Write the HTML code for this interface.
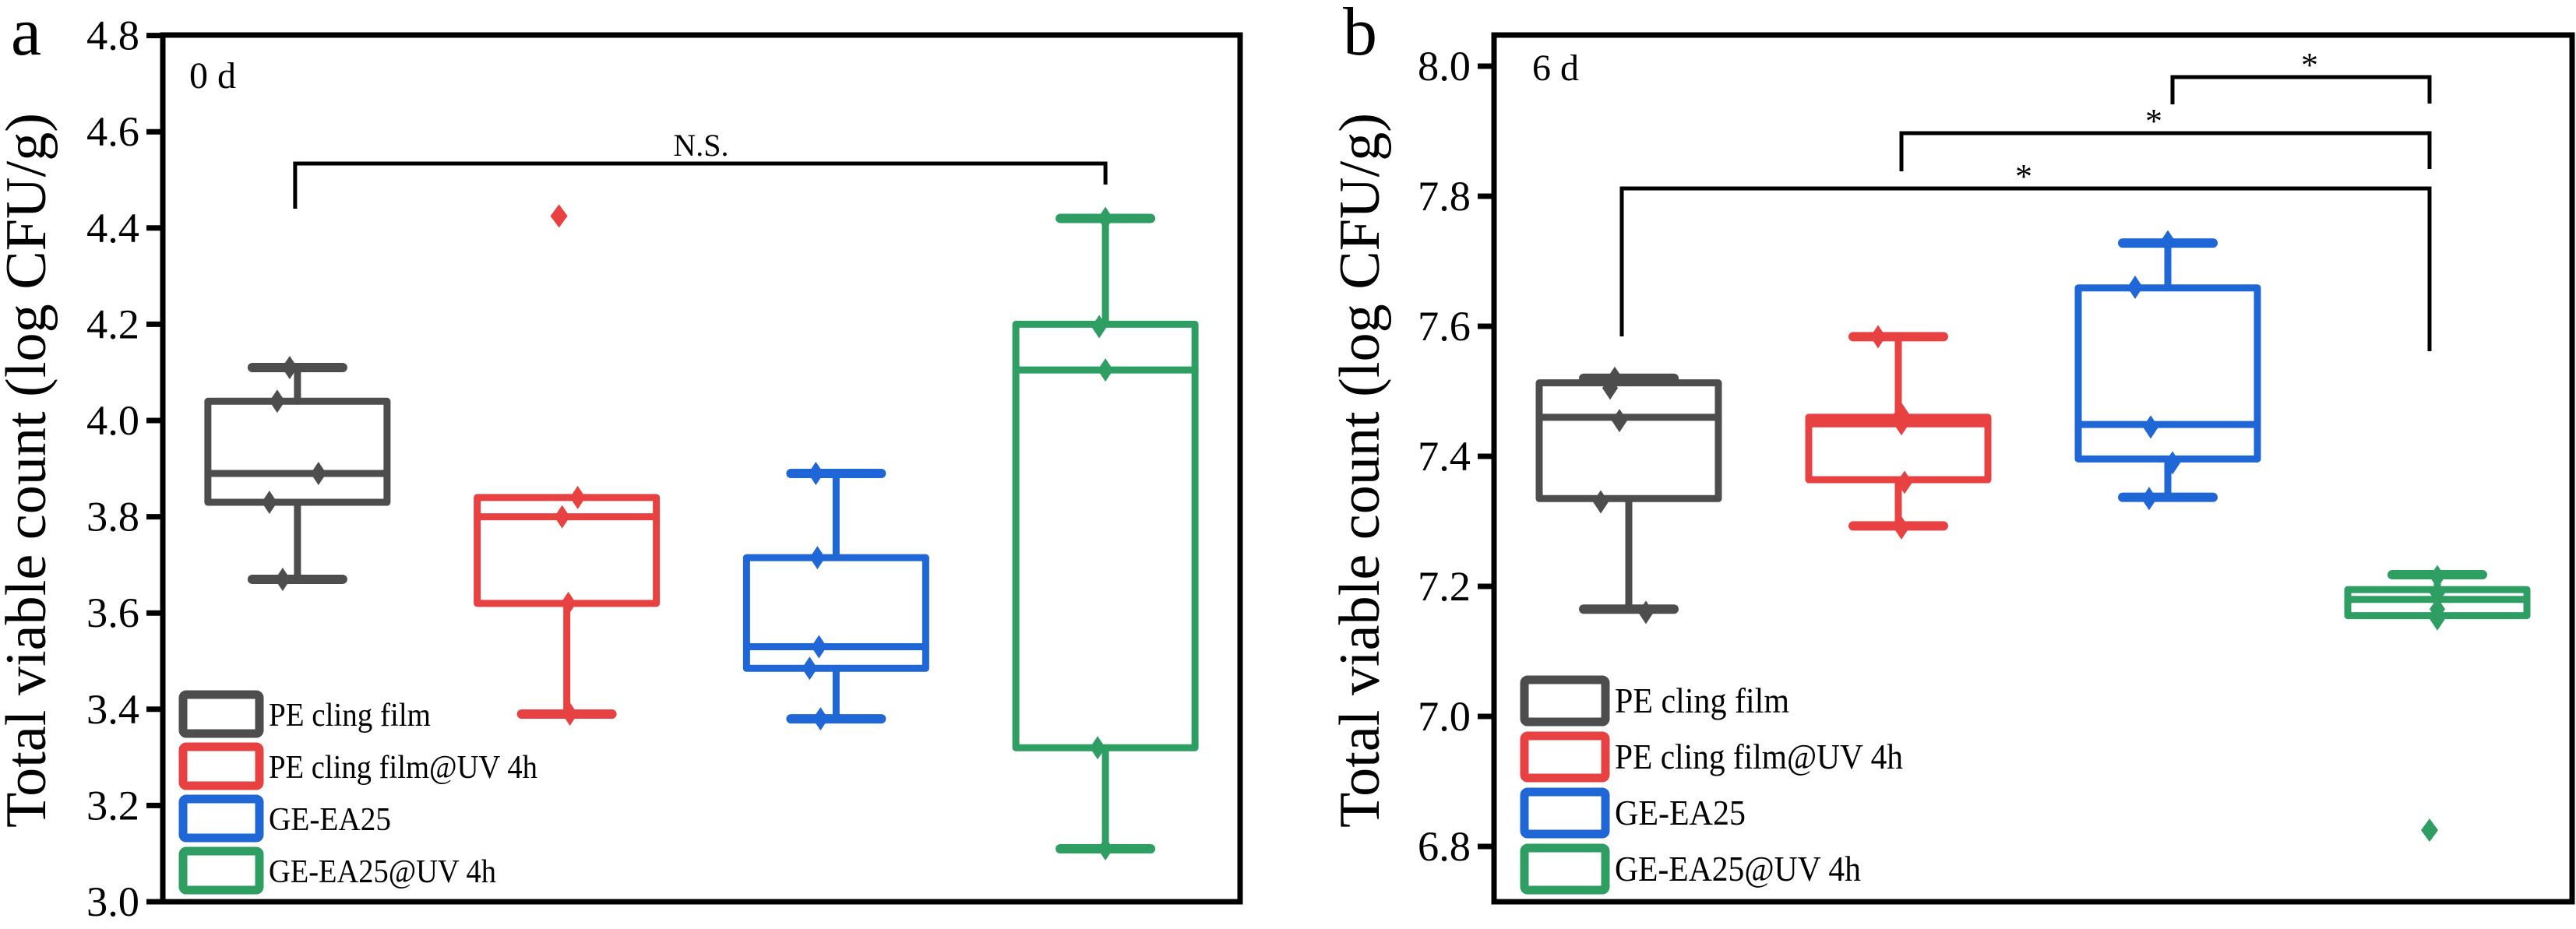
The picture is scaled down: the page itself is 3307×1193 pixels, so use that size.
<!DOCTYPE html>
<html><head><meta charset="utf-8"><style>
html,body{margin:0;padding:0;background:#fff;}
svg{display:block;font-family:"Liberation Serif","Times New Roman",serif;}
svg text{font-family:"Liberation Serif","Times New Roman",serif;}
</style></head><body>
<svg id="chart" width="3307" height="1193" viewBox="0 0 3307 1193" xmlns="http://www.w3.org/2000/svg" font-family="Liberation Serif, serif"></svg>
<script>
// ---------- data ----------
const categories = ["PE cling film","PE cling film@UV 4h","GE-EA25","GE-EA25@UV 4h"];
const colors = ["#4d4d4d","#e84142","#1f66d6","#2f9e63"];
// panel a (0 d)
const aLow  = [3.67, 3.39, 3.38, 3.11];
const aQ1   = [3.83, 3.62, 3.485, 3.32];
const aMed  = [3.89, 3.80, 3.53, 4.105];
const aQ3   = [4.04, 3.84, 3.715, 4.20];
const aHigh = [4.11, 3.84, 3.89, 4.42];
const aPoints = [[4.11,4.04,3.89,3.83,3.67],[3.84,3.80,3.62,3.39],[3.89,3.715,3.53,3.485,3.38],[4.42,4.195,4.105,3.32,3.11]];
const aOutliers = [[],[4.425],[],[]];
const aTicks = ["3.0","3.2","3.4","3.6","3.8","4.0","4.2","4.4","4.6","4.8"];
// panel b (6 d)
const bLow  = [7.165, 7.293, 7.337, 7.155];
const bQ1   = [7.335, 7.364, 7.396, 7.155];
const bMed  = [7.46, 7.45, 7.449, 7.18];
const bQ3   = [7.513, 7.46, 7.659, 7.195];
const bHigh = [7.52, 7.584, 7.728, 7.218];
const bPoints = [[7.52,7.505,7.455,7.33,7.16],[7.584,7.465,7.45,7.36,7.29],[7.73,7.66,7.445,7.39,7.335],[7.215,7.19,7.165,7.15]];
const bOutliers = [[],[],[],[6.825]];
const bTicks = ["6.8","7.0","7.2","7.4","7.6","7.8","8.0"];

// ---------- layout (styles) ----------
const jitter = {
  a:[[-10,-26,27,-36,-19],[14,-6,2,4],[-26,-24,-22,-34,-20],[0,-8,0,-10,0]],
  b:[[-18,-24,-12,-36,22],[-26,4,4,8,4],[0,-42,-22,6,-24],[0,0,0,0]]
};
const legWidths = [{a:208,b:224},{a:345,b:370},{a:157,b:168},{a:292,b:316}];
const FF = '"Liberation Serif", "Times New Roman", serif';
const NS = "http://www.w3.org/2000/svg";
const svg = document.getElementById('chart');
function mk(tag, attrs, parent){
  const e = document.createElementNS(NS, tag);
  for (const k in attrs) e.setAttribute(k, attrs[k]);
  if (tag === 'text') e.setAttribute('font-family', FF);
  (parent||svg).appendChild(e);
  return e;
}

function panel(cfg){
  const g = mk('g', {});
  
  
  const L=cfg.left, R=cfg.right, T=45, B=1158;
  const y = v => cfg.y0 - (v - cfg.v0) * cfg.pxPerUnit;
  const xc = i => L + (R-L) * (i + 0.5) / categories.length;
  const bw = 230;

  cfg.ticks.forEach(t=>{
    const v = parseFloat(t), yy = y(v);
    const tk = mk('line',{x1:L-21,x2:L,y1:yy,y2:yy,stroke:'#000','stroke-width':7},g);
    
    
    const tl = mk('text',{x:L-30,y:yy+18,'font-size':54,'text-anchor':'end',fill:'#000',textLength:68,lengthAdjust:'spacingAndGlyphs'},g);
    tl.textContent = t;
    
    
  });
  const ty = mk('text',{x:0,y:0,'font-size':74,'text-anchor':'middle',fill:'#000',
    transform:`translate(${cfg.titleX},604) rotate(-90)`,textLength:918,lengthAdjust:'spacingAndGlyphs'},g);
  ty.textContent = 'Total viable count (log CFU/g)';
  
  

  for (let i=0;i<categories.length;i++){
    const c = colors[i], cx = xc(i);
    const bg = mk('g',{stroke:c,fill:'none','stroke-width':9,'stroke-linecap':'round','stroke-linejoin':'round'},g);
    
    
    const d = cfg.data;
    if (d.high[i] > d.q3[i]+0.001){
      mk('line',{x1:cx,x2:cx,y1:y(d.q3[i]),y2:y(d.high[i])},bg);
      mk('line',{x1:cx-58,x2:cx+58,y1:y(d.high[i]),y2:y(d.high[i]),'stroke-width':12},bg);
    }
    if (d.low[i] < d.q1[i]-0.001){
      mk('line',{x1:cx,x2:cx,y1:y(d.q1[i]),y2:y(d.low[i])},bg);
      mk('line',{x1:cx-58,x2:cx+58,y1:y(d.low[i]),y2:y(d.low[i]),'stroke-width':12},bg);
    }
    mk('rect',{x:cx-bw/2,y:y(d.q3[i]),width:bw,height:Math.max(1,y(d.q1[i])-y(d.q3[i]))},bg);
    mk('line',{x1:cx-bw/2,x2:cx+bw/2,y1:y(d.med[i]),y2:y(d.med[i])},bg);
    d.points[i].forEach((v,j)=>{
      const px = cx + (cfg.jit[i][j]||0), py = y(v);
      const p = mk('path',{d:`M${px},${py-15}L${px+10},${py}L${px},${py+15}L${px-10},${py}Z`,fill:c,stroke:'none'},g);
      
      
    });
    d.out[i].forEach(v=>{
      const px = cx - 10, py = y(v);
      const p = mk('path',{d:`M${px},${py-15}L${px+11},${py}L${px},${py+15}L${px-11},${py}Z`,fill:c,stroke:'none'},g);
      
      
    });
  }

  const fr = mk('rect',{x:L,y:T,width:R-L,height:B-T,fill:'none',stroke:'#000','stroke-width':7},g);
  
  

  const lg = mk('g',{},g);
  
  
  categories.forEach((nm,i)=>{
    const yy = cfg.legY + i*cfg.legStep;
    const e = mk('g',{},lg);
    
    
    mk('rect',{x:cfg.legX+5,y:yy+5,width:cfg.legW-10,height:cfg.legH-10,rx:4,fill:'none',stroke:colors[i],'stroke-width':11},e);
    const t = mk('text',{x:cfg.legX+cfg.legW+7,y:yy+cfg.legH/2+15,'font-size':cfg.legFs,fill:'#000',
      textLength:legWidths[i][cfg.key],lengthAdjust:'spacingAndGlyphs'},e);
    t.textContent = nm;
  });

  const dl = mk('text',{x:cfg.dayX,y:cfg.dayY,'font-size':48,fill:'#000'},g);
  dl.textContent = cfg.day;
  
  
  return {g,y,xc};
}

const A = panel({name:'panel-a',key:'a',left:209,right:1592,y0:1158,v0:3.0,pxPerUnit:618,ticks:aTicks,titleX:58,
  data:{low:aLow,q1:aQ1,med:aMed,q3:aQ3,high:aHigh,points:aPoints,out:aOutliers},jit:jitter.a,
  legX:230,legY:887,legStep:67,legW:108,legH:60,legFs:42,day:'0 d',dayX:243,dayY:113});
const B = panel({name:'panel-b',key:'b',left:1918,right:3302,y0:1087,v0:6.8,pxPerUnit:835,ticks:bTicks,titleX:1770,
  data:{low:bLow,q1:bQ1,med:bMed,q3:bQ3,high:bHigh,points:bPoints,out:bOutliers},jit:jitter.b,
  legX:1952,legY:868,legStep:72,legW:114,legH:64,legFs:45,day:'6 d',dayX:1967,dayY:103});

[['a',14,70],['b',1724,70]].forEach(([t,x,yy])=>{
  const e = mk('text',{x:x,y:yy,'font-size':88,fill:'#000'});
  e.textContent = t;
  
  
});

function bracket(x1,x2,yTop,d1,d2,label,lx,ly,fs,name){
  const g = mk('g',{});
  
  
  mk('path',{d:`M${x1},${d1}V${yTop}H${x2}V${d2}`,fill:'none',stroke:'#000','stroke-width':5},g);
  const t = mk('text',{x:lx,y:ly,'font-size':fs,'text-anchor':'middle',fill:'#000'},g);
  t.textContent = label;
}
bracket(A.xc(0)-3,A.xc(3),210,268,237,'N.S.',900,200,40,'significance-ns');
bracket(B.xc(2)+6,3119,99,134,133,'*',2965,98,44,'significance-blue-green');
bracket(2441,3119,171,220,217,'*',2765,170,44,'significance-red-green');
bracket(2082,3119,242,432,451,'*',2598,241,44,'significance-gray-green');
</script>
</body></html>
